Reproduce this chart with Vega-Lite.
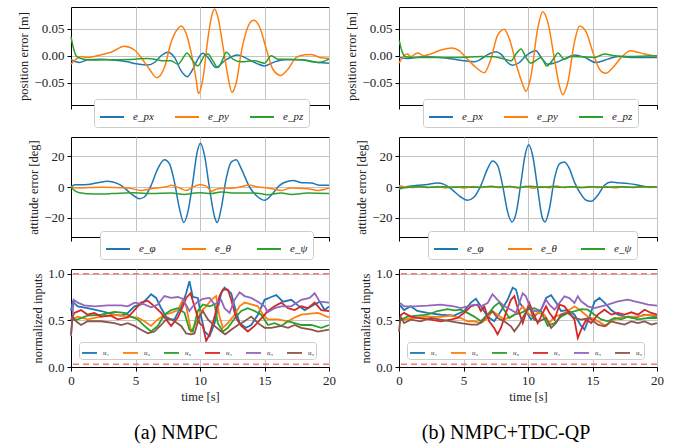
{
"$schema": "https://vega.github.io/schema/vega-lite/v6.json",
"padding": {"left": 17, "top": 5, "right": 5, "bottom": 5},
"config": {
  "font": "Liberation Serif",
  "view": {"stroke": "black", "strokeWidth": 1},
  "axis": {"labelFont": "Liberation Serif", "labelFontSize": 13, "labelColor": "#222", "titleFont": "Liberation Serif", "titleFontSize": 12.5, "titleFontWeight": "normal", "titleColor": "#222", "domainColor": "black", "tickColor": "black", "tickSize": 4, "gridColor": "#c4c4c4", "gridWidth": 1, "labelPadding": 3, "titlePadding": 3, "labelFlush": false},
  "legend": {"labelFont": "Liberation Serif", "labelFontStyle": "italic", "labelColor": "#222", "symbolType": "stroke", "strokeColor": "#cccccc", "fillColor": "white", "cornerRadius": 3},
  "title": {"font": "Liberation Serif", "fontWeight": "normal", "fontSize": 20, "color": "black"}
},
"datasets": {
  "posA": [
    {"s":"e_px","t":0,"v":-0.0075},{"s":"e_px","t":0.65,"v":-0.0125},{"s":"e_px","t":1.29,"v":-0.0075},{"s":"e_px","t":2.33,"v":-0.0063},{"s":"e_px","t":3.88,"v":-0.0094},{"s":"e_px","t":4.4,"v":-0.0113},{"s":"e_px","t":4.92,"v":-0.0144},{"s":"e_px","t":5.95,"v":-0.0169},{"s":"e_px","t":6.47,"v":-0.0125},{"s":"e_px","t":6.99,"v":0},{"s":"e_px","t":7.5,"v":0.0063},{"s":"e_px","t":8.02,"v":-0.0031},{"s":"e_px","t":8.54,"v":-0.0281},{"s":"e_px","t":9.0,"v":-0.0388},{"s":"e_px","t":9.44,"v":-0.025},{"s":"e_px","t":9.83,"v":-0.0063},{"s":"e_px","t":10.22,"v":0.0044},{"s":"e_px","t":10.61,"v":-0.0031},{"s":"e_px","t":11.25,"v":-0.0219},{"s":"e_px","t":11.9,"v":-0.0094},{"s":"e_px","t":12.94,"v":0.0013},{"s":"e_px","t":13.71,"v":-0.0063},{"s":"e_px","t":15.01,"v":-0.0188},{"s":"e_px","t":15.78,"v":-0.0113},{"s":"e_px","t":16.56,"v":-0.0075},{"s":"e_px","t":17.85,"v":-0.0075},{"s":"e_px","t":19.15,"v":-0.0125},{"s":"e_px","t":20,"v":-0.0138},
    {"s":"e_py","t":0,"v":-0.0156},{"s":"e_py","t":0.39,"v":-0.0063},{"s":"e_py","t":0.78,"v":-0.0013},{"s":"e_py","t":1.29,"v":-0.0031},{"s":"e_py","t":2.33,"v":0.0019},{"s":"e_py","t":3.1,"v":0.0063},{"s":"e_py","t":4.14,"v":0.0175},{"s":"e_py","t":4.92,"v":0.0106},{"s":"e_py","t":5.43,"v":-0.0031},{"s":"e_py","t":6.08,"v":-0.025},{"s":"e_py","t":6.65,"v":-0.0406},{"s":"e_py","t":7.24,"v":-0.0219},{"s":"e_py","t":7.76,"v":0.025},{"s":"e_py","t":8.28,"v":0.05},{"s":"e_py","t":8.54,"v":0.055},{"s":"e_py","t":8.93,"v":0.0406},{"s":"e_py","t":9.31,"v":0.0063},{"s":"e_py","t":9.7,"v":-0.0438},{"s":"e_py","t":9.88,"v":-0.07},{"s":"e_py","t":10.22,"v":-0.0438},{"s":"e_py","t":10.61,"v":0.0313},{"s":"e_py","t":10.92,"v":0.075},{"s":"e_py","t":11.13,"v":0.0863},{"s":"e_py","t":11.38,"v":0.0719},{"s":"e_py","t":11.77,"v":0.0188},{"s":"e_py","t":12.16,"v":-0.0375},{"s":"e_py","t":12.47,"v":-0.0675},{"s":"e_py","t":12.81,"v":-0.05},{"s":"e_py","t":13.2,"v":0.0063},{"s":"e_py","t":13.71,"v":0.0531},{"s":"e_py","t":14.15,"v":0.0656},{"s":"e_py","t":14.62,"v":0.0531},{"s":"e_py","t":15.14,"v":0.0125},{"s":"e_py","t":15.65,"v":-0.025},{"s":"e_py","t":16.25,"v":-0.0363},{"s":"e_py","t":16.82,"v":-0.025},{"s":"e_py","t":17.46,"v":-0.0031},{"s":"e_py","t":18.11,"v":0.0019},{"s":"e_py","t":18.63,"v":0.0025},{"s":"e_py","t":19.28,"v":-0.0031},{"s":"e_py","t":20,"v":-0.005},
    {"s":"e_pz","t":0,"v":0.035},{"s":"e_pz","t":0.21,"v":0.0125},{"s":"e_pz","t":0.39,"v":0},{"s":"e_pz","t":0.78,"v":-0.005},{"s":"e_pz","t":1.55,"v":-0.0081},{"s":"e_pz","t":3.1,"v":-0.0075},{"s":"e_pz","t":4.92,"v":-0.0063},{"s":"e_pz","t":5.95,"v":-0.005},{"s":"e_pz","t":6.47,"v":-0.0063},{"s":"e_pz","t":7.24,"v":-0.0094},{"s":"e_pz","t":7.76,"v":-0.0094},{"s":"e_pz","t":8.28,"v":-0.0156},{"s":"e_pz","t":8.8,"v":0},{"s":"e_pz","t":8.98,"v":0.005},{"s":"e_pz","t":9.44,"v":-0.0094},{"s":"e_pz","t":9.83,"v":-0.0188},{"s":"e_pz","t":10.35,"v":0},{"s":"e_pz","t":10.61,"v":0.0031},{"s":"e_pz","t":11.0,"v":-0.0094},{"s":"e_pz","t":11.38,"v":-0.0219},{"s":"e_pz","t":11.77,"v":-0.0063},{"s":"e_pz","t":12.03,"v":0.0063},{"s":"e_pz","t":12.55,"v":-0.0063},{"s":"e_pz","t":13.2,"v":-0.0113},{"s":"e_pz","t":14.23,"v":-0.0094},{"s":"e_pz","t":15.01,"v":-0.0138},{"s":"e_pz","t":15.52,"v":0},{"s":"e_pz","t":16.04,"v":-0.0063},{"s":"e_pz","t":16.82,"v":-0.0063},{"s":"e_pz","t":17.85,"v":-0.0075},{"s":"e_pz","t":19.15,"v":-0.0125},{"s":"e_pz","t":20,"v":-0.0063}
  ],
  "posB": [
    {"s":"e_px","t":0,"v":-0.0031},{"s":"e_px","t":0.65,"v":-0.005},{"s":"e_px","t":1.94,"v":-0.0019},{"s":"e_px","t":3.24,"v":-0.0031},{"s":"e_px","t":4.27,"v":-0.0063},{"s":"e_px","t":5.05,"v":-0.0094},{"s":"e_px","t":5.83,"v":-0.0113},{"s":"e_px","t":6.35,"v":-0.0063},{"s":"e_px","t":6.87,"v":0.0019},{"s":"e_px","t":7.51,"v":0.0075},{"s":"e_px","t":7.9,"v":0.0031},{"s":"e_px","t":8.42,"v":-0.0125},{"s":"e_px","t":8.81,"v":-0.0175},{"s":"e_px","t":9.33,"v":-0.0125},{"s":"e_px","t":9.84,"v":0},{"s":"e_px","t":10.62,"v":0.0094},{"s":"e_px","t":11.01,"v":-0.0031},{"s":"e_px","t":11.53,"v":-0.0156},{"s":"e_px","t":12.31,"v":-0.0113},{"s":"e_px","t":13.08,"v":-0.0031},{"s":"e_px","t":13.6,"v":0.0013},{"s":"e_px","t":14.38,"v":-0.0031},{"s":"e_px","t":15.28,"v":-0.0125},{"s":"e_px","t":16.19,"v":-0.0063},{"s":"e_px","t":16.97,"v":-0.0013},{"s":"e_px","t":18.01,"v":-0.0031},{"s":"e_px","t":20,"v":-0.0031},
    {"s":"e_py","t":0,"v":-0.0138},{"s":"e_py","t":0.39,"v":0},{"s":"e_py","t":0.65,"v":0.0031},{"s":"e_py","t":0.91,"v":-0.0013},{"s":"e_py","t":1.42,"v":0.005},{"s":"e_py","t":1.94,"v":0},{"s":"e_py","t":2.46,"v":0.0031},{"s":"e_py","t":3.24,"v":0.0106},{"s":"e_py","t":4.15,"v":0.0144},{"s":"e_py","t":4.66,"v":0.0094},{"s":"e_py","t":5.18,"v":-0.0031},{"s":"e_py","t":5.83,"v":-0.0188},{"s":"e_py","t":6.61,"v":-0.0313},{"s":"e_py","t":7.12,"v":-0.0063},{"s":"e_py","t":7.64,"v":0.0375},{"s":"e_py","t":8.16,"v":0.0488},{"s":"e_py","t":8.55,"v":0.0313},{"s":"e_py","t":9.2,"v":-0.025},{"s":"e_py","t":9.59,"v":-0.0531},{"s":"e_py","t":9.84,"v":-0.0656},{"s":"e_py","t":10.23,"v":-0.0375},{"s":"e_py","t":10.75,"v":0.05},{"s":"e_py","t":11.14,"v":0.0813},{"s":"e_py","t":11.53,"v":0.0625},{"s":"e_py","t":12.05,"v":-0.0063},{"s":"e_py","t":12.44,"v":-0.0563},{"s":"e_py","t":12.69,"v":-0.0719},{"s":"e_py","t":13.08,"v":-0.05},{"s":"e_py","t":13.6,"v":0.025},{"s":"e_py","t":13.99,"v":0.055},{"s":"e_py","t":14.51,"v":0.0438},{"s":"e_py","t":15.03,"v":0.0063},{"s":"e_py","t":15.54,"v":-0.025},{"s":"e_py","t":16.01,"v":-0.0325},{"s":"e_py","t":16.58,"v":-0.0219},{"s":"e_py","t":17.23,"v":-0.0031},{"s":"e_py","t":17.95,"v":0.0094},{"s":"e_py","t":18.52,"v":0.0063},{"s":"e_py","t":19.04,"v":0.0031},{"s":"e_py","t":20,"v":-0.0013},
    {"s":"e_pz","t":0.02,"v":0.028},{"s":"e_pz","t":0.26,"v":0.0063},{"s":"e_pz","t":0.52,"v":-0.0019},{"s":"e_pz","t":1.17,"v":-0.0031},{"s":"e_pz","t":3.24,"v":-0.0031},{"s":"e_pz","t":4.79,"v":-0.0031},{"s":"e_pz","t":6.35,"v":-0.0013},{"s":"e_pz","t":7.38,"v":-0.0019},{"s":"e_pz","t":8.16,"v":-0.0063},{"s":"e_pz","t":8.68,"v":-0.0094},{"s":"e_pz","t":9.07,"v":0.0031},{"s":"e_pz","t":9.46,"v":0.0125},{"s":"e_pz","t":9.84,"v":-0.0031},{"s":"e_pz","t":10.23,"v":-0.0138},{"s":"e_pz","t":10.75,"v":-0.0063},{"s":"e_pz","t":11.01,"v":-0.0031},{"s":"e_pz","t":11.45,"v":-0.0188},{"s":"e_pz","t":12.05,"v":-0.0031},{"s":"e_pz","t":12.31,"v":0.005},{"s":"e_pz","t":12.82,"v":-0.0063},{"s":"e_pz","t":13.34,"v":-0.0013},{"s":"e_pz","t":14.12,"v":-0.0019},{"s":"e_pz","t":15.16,"v":-0.0031},{"s":"e_pz","t":15.93,"v":0.0031},{"s":"e_pz","t":16.71,"v":0},{"s":"e_pz","t":17.75,"v":-0.0013},{"s":"e_pz","t":20,"v":0}
  ],
  "attA": [
    {"s":"e_φ","t":0,"v":0},{"s":"e_φ","t":0.31,"v":1.5},{"s":"e_φ","t":0.78,"v":1.5},{"s":"e_φ","t":1.29,"v":1.7},{"s":"e_φ","t":2.07,"v":2.8},{"s":"e_φ","t":2.85,"v":3.7},{"s":"e_φ","t":3.23,"v":3.2},{"s":"e_φ","t":3.88,"v":1.1},{"s":"e_φ","t":4.66,"v":-4.3},{"s":"e_φ","t":5.3,"v":-7.6},{"s":"e_φ","t":5.69,"v":-6.5},{"s":"e_φ","t":6.21,"v":1.1},{"s":"e_φ","t":6.73,"v":11.9},{"s":"e_φ","t":7.24,"v":17.7},{"s":"e_φ","t":7.63,"v":15.1},{"s":"e_φ","t":8.02,"v":3.2},{"s":"e_φ","t":8.41,"v":-14.1},{"s":"e_φ","t":8.75,"v":-23.1},{"s":"e_φ","t":9.06,"v":-16.2},{"s":"e_φ","t":9.44,"v":3.2},{"s":"e_φ","t":9.78,"v":22.7},{"s":"e_φ","t":10.04,"v":28.5},{"s":"e_φ","t":10.35,"v":20.5},{"s":"e_φ","t":10.74,"v":-1.1},{"s":"e_φ","t":11.13,"v":-19.5},{"s":"e_φ","t":11.33,"v":-23.1},{"s":"e_φ","t":11.64,"v":-14.1},{"s":"e_φ","t":12.03,"v":5.4},{"s":"e_φ","t":12.42,"v":16.2},{"s":"e_φ","t":12.81,"v":17.7},{"s":"e_φ","t":13.2,"v":11.9},{"s":"e_φ","t":13.84,"v":0},{"s":"e_φ","t":14.49,"v":-6.5},{"s":"e_φ","t":15.01,"v":-8.6},{"s":"e_φ","t":15.52,"v":-5.4},{"s":"e_φ","t":16.17,"v":1.1},{"s":"e_φ","t":16.82,"v":3.7},{"s":"e_φ","t":17.21,"v":4.3},{"s":"e_φ","t":17.85,"v":2.8},{"s":"e_φ","t":18.63,"v":2.6},{"s":"e_φ","t":19.28,"v":1.1},{"s":"e_φ","t":20,"v":1.1},
    {"s":"e_θ","t":0,"v":0},{"s":"e_θ","t":0.52,"v":-0.6},{"s":"e_θ","t":2.33,"v":-0.2},{"s":"e_θ","t":4.4,"v":-0.6},{"s":"e_θ","t":5.43,"v":-2.2},{"s":"e_θ","t":6.21,"v":-1.1},{"s":"e_θ","t":7.5,"v":0.4},{"s":"e_θ","t":7.76,"v":1.1},{"s":"e_θ","t":8.54,"v":-1.1},{"s":"e_θ","t":8.93,"v":-2.2},{"s":"e_θ","t":9.44,"v":0},{"s":"e_θ","t":9.96,"v":1.5},{"s":"e_θ","t":10.48,"v":0.6},{"s":"e_θ","t":10.87,"v":-2.8},{"s":"e_θ","t":11.38,"v":-1.1},{"s":"e_θ","t":12.68,"v":-0.6},{"s":"e_θ","t":13.84,"v":1.1},{"s":"e_θ","t":14.49,"v":0},{"s":"e_θ","t":15.27,"v":-0.6},{"s":"e_θ","t":16.3,"v":-2.2},{"s":"e_θ","t":17.08,"v":-0.6},{"s":"e_θ","t":18.37,"v":-1.1},{"s":"e_θ","t":19.15,"v":-2.2},{"s":"e_θ","t":20,"v":-0.6},
    {"s":"e_ψ","t":0,"v":0},{"s":"e_ψ","t":0.26,"v":-2.2},{"s":"e_ψ","t":0.65,"v":-3.7},{"s":"e_ψ","t":1.81,"v":-4.5},{"s":"e_ψ","t":3.1,"v":-4.3},{"s":"e_ψ","t":4.92,"v":-3.7},{"s":"e_ψ","t":6.21,"v":-4.3},{"s":"e_ψ","t":7.76,"v":-3.9},{"s":"e_ψ","t":8.8,"v":-4.8},{"s":"e_ψ","t":9.57,"v":-3.9},{"s":"e_ψ","t":10.09,"v":-3.7},{"s":"e_ψ","t":10.87,"v":-4.3},{"s":"e_ψ","t":11.64,"v":-3.2},{"s":"e_ψ","t":12.68,"v":-3.9},{"s":"e_ψ","t":14.23,"v":-3.9},{"s":"e_ψ","t":15.27,"v":-5.0},{"s":"e_ψ","t":16.3,"v":-3.9},{"s":"e_ψ","t":17.08,"v":-4.8},{"s":"e_ψ","t":18.37,"v":-3.9},{"s":"e_ψ","t":20,"v":-4.3}
  ],
  "attB": [
    {"s":"e_φ","t":0,"v":-0.4},{"s":"e_φ","t":0.65,"v":0.4},{"s":"e_φ","t":1.42,"v":1.1},{"s":"e_φ","t":2.2,"v":1.7},{"s":"e_φ","t":2.98,"v":2.6},{"s":"e_φ","t":3.5,"v":1.7},{"s":"e_φ","t":4.02,"v":-1.1},{"s":"e_φ","t":4.79,"v":-6.5},{"s":"e_φ","t":5.31,"v":-8.6},{"s":"e_φ","t":5.83,"v":-6.5},{"s":"e_φ","t":6.35,"v":1.1},{"s":"e_φ","t":6.87,"v":11.9},{"s":"e_φ","t":7.25,"v":16.9},{"s":"e_φ","t":7.64,"v":14.1},{"s":"e_φ","t":8.03,"v":1.1},{"s":"e_φ","t":8.42,"v":-16.2},{"s":"e_φ","t":8.76,"v":-22.7},{"s":"e_φ","t":9.07,"v":-17.3},{"s":"e_φ","t":9.46,"v":3.2},{"s":"e_φ","t":9.77,"v":20.5},{"s":"e_φ","t":10.05,"v":27.5},{"s":"e_φ","t":10.36,"v":20.5},{"s":"e_φ","t":10.75,"v":-1.1},{"s":"e_φ","t":11.09,"v":-19.5},{"s":"e_φ","t":11.32,"v":-22.7},{"s":"e_φ","t":11.66,"v":-14.1},{"s":"e_φ","t":12.05,"v":5.4},{"s":"e_φ","t":12.44,"v":15.1},{"s":"e_φ","t":12.82,"v":16.2},{"s":"e_φ","t":13.21,"v":11.9},{"s":"e_φ","t":13.6,"v":3.2},{"s":"e_φ","t":13.99,"v":-3.2},{"s":"e_φ","t":14.51,"v":-8.6},{"s":"e_φ","t":14.9,"v":-9.3},{"s":"e_φ","t":15.41,"v":-5.4},{"s":"e_φ","t":15.93,"v":1.1},{"s":"e_φ","t":16.45,"v":3.2},{"s":"e_φ","t":16.97,"v":2.8},{"s":"e_φ","t":17.75,"v":2.2},{"s":"e_φ","t":18.39,"v":1.5},{"s":"e_φ","t":19.04,"v":0.4},{"s":"e_φ","t":20,"v":0},
    {"s":"e_θ","t":0,"v":0.8},{"s":"e_θ","t":0.4,"v":0.2},{"s":"e_θ","t":1,"v":-0.3},{"s":"e_θ","t":1.6,"v":0.4},{"s":"e_θ","t":2.2,"v":-0.4},{"s":"e_θ","t":3,"v":0.3},{"s":"e_θ","t":3.6,"v":-0.5},{"s":"e_θ","t":4.4,"v":0.2},{"s":"e_θ","t":5,"v":-0.6},{"s":"e_θ","t":5.8,"v":0.4},{"s":"e_θ","t":6.4,"v":-0.3},{"s":"e_θ","t":7.2,"v":0.5},{"s":"e_θ","t":7.8,"v":-0.4},{"s":"e_θ","t":8.6,"v":0.3},{"s":"e_θ","t":9.2,"v":-0.7},{"s":"e_θ","t":9.8,"v":0.5},{"s":"e_θ","t":10.4,"v":-0.8},{"s":"e_θ","t":11,"v":0.4},{"s":"e_θ","t":11.6,"v":-0.5},{"s":"e_θ","t":12.2,"v":0.6},{"s":"e_θ","t":12.8,"v":-0.4},{"s":"e_θ","t":13.4,"v":0.3},{"s":"e_θ","t":14,"v":-0.5},{"s":"e_θ","t":14.8,"v":0.4},{"s":"e_θ","t":15.4,"v":-0.4},{"s":"e_θ","t":16,"v":0.3},{"s":"e_θ","t":16.8,"v":-0.5},{"s":"e_θ","t":17.4,"v":0.3},{"s":"e_θ","t":18.2,"v":-0.4},{"s":"e_θ","t":18.8,"v":0.3},{"s":"e_θ","t":19.4,"v":-0.3},{"s":"e_θ","t":20,"v":0.2},
    {"s":"e_ψ","t":0,"v":-1.3},{"s":"e_ψ","t":0.3,"v":-0.6},{"s":"e_ψ","t":0.8,"v":-0.2},{"s":"e_ψ","t":1.6,"v":0.1},{"s":"e_ψ","t":2.5,"v":-0.2},{"s":"e_ψ","t":3.4,"v":0.2},{"s":"e_ψ","t":4.2,"v":-0.1},{"s":"e_ψ","t":5,"v":0.2},{"s":"e_ψ","t":6,"v":-0.2},{"s":"e_ψ","t":7,"v":0.3},{"s":"e_ψ","t":7.8,"v":0},{"s":"e_ψ","t":8.6,"v":0.4},{"s":"e_ψ","t":9.4,"v":-0.3},{"s":"e_ψ","t":10.2,"v":0.5},{"s":"e_ψ","t":11,"v":-0.2},{"s":"e_ψ","t":11.8,"v":0.3},{"s":"e_ψ","t":12.6,"v":-0.2},{"s":"e_ψ","t":13.4,"v":0.2},{"s":"e_ψ","t":14.2,"v":-0.3},{"s":"e_ψ","t":15,"v":0.1},{"s":"e_ψ","t":16,"v":-0.2},{"s":"e_ψ","t":17,"v":0.1},{"s":"e_ψ","t":18,"v":-0.1},{"s":"e_ψ","t":19,"v":0.1},{"s":"e_ψ","t":20,"v":0}
  ],
  "inA": [
    {"s":"u₁","t":0,"v":0.6},{"s":"u₁","t":0.13,"v":0.7},{"s":"u₁","t":0.52,"v":0.65},{"s":"u₁","t":1.29,"v":0.63},{"s":"u₁","t":2.33,"v":0.6},{"s":"u₁","t":2.85,"v":0.58},{"s":"u₁","t":3.36,"v":0.56},{"s":"u₁","t":3.88,"v":0.55},{"s":"u₁","t":4.4,"v":0.58},{"s":"u₁","t":4.92,"v":0.65},{"s":"u₁","t":5.43,"v":0.67},{"s":"u₁","t":5.95,"v":0.74},{"s":"u₁","t":6.21,"v":0.78},{"s":"u₁","t":6.6,"v":0.74},{"s":"u₁","t":6.99,"v":0.63},{"s":"u₁","t":7.5,"v":0.51},{"s":"u₁","t":8.02,"v":0.51},{"s":"u₁","t":8.54,"v":0.65},{"s":"u₁","t":8.93,"v":0.79},{"s":"u₁","t":9.18,"v":0.92},{"s":"u₁","t":9.44,"v":0.75},{"s":"u₁","t":9.83,"v":0.74},{"s":"u₁","t":10.09,"v":0.54},{"s":"u₁","t":10.35,"v":0.38},{"s":"u₁","t":10.74,"v":0.33},{"s":"u₁","t":11.13,"v":0.47},{"s":"u₁","t":11.64,"v":0.79},{"s":"u₁","t":11.9,"v":0.85},{"s":"u₁","t":12.42,"v":0.79},{"s":"u₁","t":12.68,"v":0.65},{"s":"u₁","t":13.07,"v":0.47},{"s":"u₁","t":13.58,"v":0.42},{"s":"u₁","t":13.97,"v":0.45},{"s":"u₁","t":14.49,"v":0.56},{"s":"u₁","t":15.01,"v":0.72},{"s":"u₁","t":15.52,"v":0.75},{"s":"u₁","t":15.91,"v":0.77},{"s":"u₁","t":16.43,"v":0.7},{"s":"u₁","t":17.08,"v":0.72},{"s":"u₁","t":17.59,"v":0.66},{"s":"u₁","t":18.11,"v":0.61},{"s":"u₁","t":18.63,"v":0.65},{"s":"u₁","t":19.28,"v":0.7},{"s":"u₁","t":19.66,"v":0.61},{"s":"u₁","t":20,"v":0.65},
    {"s":"u₂","t":0,"v":0.5},{"s":"u₂","t":0.52,"v":0.54},{"s":"u₂","t":1.29,"v":0.51},{"s":"u₂","t":2.33,"v":0.54},{"s":"u₂","t":3.36,"v":0.56},{"s":"u₂","t":4.4,"v":0.54},{"s":"u₂","t":5.17,"v":0.53},{"s":"u₂","t":5.69,"v":0.49},{"s":"u₂","t":6.21,"v":0.44},{"s":"u₂","t":6.73,"v":0.51},{"s":"u₂","t":7.24,"v":0.56},{"s":"u₂","t":7.76,"v":0.58},{"s":"u₂","t":8.28,"v":0.61},{"s":"u₂","t":8.67,"v":0.72},{"s":"u₂","t":8.93,"v":0.65},{"s":"u₂","t":9.31,"v":0.38},{"s":"u₂","t":9.7,"v":0.47},{"s":"u₂","t":10.09,"v":0.6},{"s":"u₂","t":10.48,"v":0.65},{"s":"u₂","t":10.87,"v":0.72},{"s":"u₂","t":11.25,"v":0.76},{"s":"u₂","t":11.51,"v":0.54},{"s":"u₂","t":11.77,"v":0.42},{"s":"u₂","t":12.16,"v":0.47},{"s":"u₂","t":12.68,"v":0.56},{"s":"u₂","t":13.07,"v":0.65},{"s":"u₂","t":13.45,"v":0.69},{"s":"u₂","t":13.97,"v":0.67},{"s":"u₂","t":14.49,"v":0.65},{"s":"u₂","t":14.88,"v":0.56},{"s":"u₂","t":15.27,"v":0.51},{"s":"u₂","t":16.04,"v":0.51},{"s":"u₂","t":16.82,"v":0.49},{"s":"u₂","t":17.34,"v":0.53},{"s":"u₂","t":17.85,"v":0.56},{"s":"u₂","t":18.37,"v":0.57},{"s":"u₂","t":19.15,"v":0.58},{"s":"u₂","t":20,"v":0.53},
    {"s":"u₃","t":0,"v":0.5},{"s":"u₃","t":0.52,"v":0.51},{"s":"u₃","t":1.29,"v":0.55},{"s":"u₃","t":2.33,"v":0.56},{"s":"u₃","t":3.36,"v":0.59},{"s":"u₃","t":4.14,"v":0.58},{"s":"u₃","t":4.66,"v":0.54},{"s":"u₃","t":5.17,"v":0.51},{"s":"u₃","t":5.69,"v":0.44},{"s":"u₃","t":6.21,"v":0.38},{"s":"u₃","t":6.73,"v":0.44},{"s":"u₃","t":7.24,"v":0.56},{"s":"u₃","t":7.76,"v":0.61},{"s":"u₃","t":8.28,"v":0.63},{"s":"u₃","t":8.8,"v":0.58},{"s":"u₃","t":9.18,"v":0.4},{"s":"u₃","t":9.44,"v":0.38},{"s":"u₃","t":9.83,"v":0.6},{"s":"u₃","t":10.22,"v":0.67},{"s":"u₃","t":10.74,"v":0.65},{"s":"u₃","t":11.13,"v":0.67},{"s":"u₃","t":11.38,"v":0.47},{"s":"u₃","t":11.77,"v":0.38},{"s":"u₃","t":12.16,"v":0.42},{"s":"u₃","t":12.68,"v":0.52},{"s":"u₃","t":13.2,"v":0.6},{"s":"u₃","t":13.71,"v":0.63},{"s":"u₃","t":14.23,"v":0.6},{"s":"u₃","t":14.75,"v":0.56},{"s":"u₃","t":15.27,"v":0.45},{"s":"u₃","t":15.78,"v":0.47},{"s":"u₃","t":16.3,"v":0.44},{"s":"u₃","t":16.82,"v":0.49},{"s":"u₃","t":17.34,"v":0.47},{"s":"u₃","t":17.85,"v":0.45},{"s":"u₃","t":18.63,"v":0.45},{"s":"u₃","t":19.4,"v":0.42},{"s":"u₃","t":20,"v":0.45},
    {"s":"u₄","t":0,"v":0.5},{"s":"u₄","t":0.26,"v":0.58},{"s":"u₄","t":0.78,"v":0.61},{"s":"u₄","t":1.29,"v":0.56},{"s":"u₄","t":1.81,"v":0.58},{"s":"u₄","t":2.33,"v":0.54},{"s":"u₄","t":3.1,"v":0.55},{"s":"u₄","t":3.62,"v":0.51},{"s":"u₄","t":4.4,"v":0.53},{"s":"u₄","t":4.92,"v":0.61},{"s":"u₄","t":5.43,"v":0.69},{"s":"u₄","t":5.95,"v":0.71},{"s":"u₄","t":6.47,"v":0.65},{"s":"u₄","t":6.99,"v":0.58},{"s":"u₄","t":7.37,"v":0.51},{"s":"u₄","t":7.76,"v":0.44},{"s":"u₄","t":8.28,"v":0.53},{"s":"u₄","t":8.67,"v":0.65},{"s":"u₄","t":8.93,"v":0.74},{"s":"u₄","t":9.26,"v":0.79},{"s":"u₄","t":9.57,"v":0.65},{"s":"u₄","t":9.96,"v":0.47},{"s":"u₄","t":10.22,"v":0.44},{"s":"u₄","t":10.48,"v":0.28},{"s":"u₄","t":10.74,"v":0.35},{"s":"u₄","t":11.13,"v":0.54},{"s":"u₄","t":11.51,"v":0.76},{"s":"u₄","t":11.77,"v":0.83},{"s":"u₄","t":12.16,"v":0.83},{"s":"u₄","t":12.42,"v":0.72},{"s":"u₄","t":12.81,"v":0.52},{"s":"u₄","t":13.2,"v":0.44},{"s":"u₄","t":13.71,"v":0.38},{"s":"u₄","t":14.23,"v":0.44},{"s":"u₄","t":14.75,"v":0.52},{"s":"u₄","t":15.27,"v":0.6},{"s":"u₄","t":15.78,"v":0.65},{"s":"u₄","t":16.3,"v":0.69},{"s":"u₄","t":16.82,"v":0.63},{"s":"u₄","t":17.34,"v":0.61},{"s":"u₄","t":17.85,"v":0.65},{"s":"u₄","t":18.37,"v":0.63},{"s":"u₄","t":18.89,"v":0.69},{"s":"u₄","t":19.4,"v":0.61},{"s":"u₄","t":20,"v":0.6},
    {"s":"u₅","t":0,"v":0.33},{"s":"u₅","t":0.21,"v":0.72},{"s":"u₅","t":0.52,"v":0.69},{"s":"u₅","t":1.03,"v":0.66},{"s":"u₅","t":1.81,"v":0.65},{"s":"u₅","t":2.85,"v":0.66},{"s":"u₅","t":3.88,"v":0.66},{"s":"u₅","t":4.4,"v":0.65},{"s":"u₅","t":4.92,"v":0.69},{"s":"u₅","t":5.69,"v":0.67},{"s":"u₅","t":6.21,"v":0.64},{"s":"u₅","t":6.73,"v":0.67},{"s":"u₅","t":7.24,"v":0.76},{"s":"u₅","t":7.76,"v":0.74},{"s":"u₅","t":8.28,"v":0.75},{"s":"u₅","t":8.67,"v":0.73},{"s":"u₅","t":9.18,"v":0.6},{"s":"u₅","t":9.44,"v":0.65},{"s":"u₅","t":9.83,"v":0.7},{"s":"u₅","t":10.22,"v":0.73},{"s":"u₅","t":10.74,"v":0.74},{"s":"u₅","t":11.13,"v":0.67},{"s":"u₅","t":11.64,"v":0.72},{"s":"u₅","t":11.9,"v":0.63},{"s":"u₅","t":12.29,"v":0.58},{"s":"u₅","t":12.68,"v":0.72},{"s":"u₅","t":13.07,"v":0.8},{"s":"u₅","t":13.45,"v":0.76},{"s":"u₅","t":13.97,"v":0.74},{"s":"u₅","t":14.49,"v":0.7},{"s":"u₅","t":15.01,"v":0.65},{"s":"u₅","t":15.27,"v":0.59},{"s":"u₅","t":15.78,"v":0.63},{"s":"u₅","t":16.3,"v":0.65},{"s":"u₅","t":17.08,"v":0.65},{"s":"u₅","t":17.85,"v":0.72},{"s":"u₅","t":18.5,"v":0.74},{"s":"u₅","t":18.89,"v":0.79},{"s":"u₅","t":19.28,"v":0.7},{"s":"u₅","t":20,"v":0.69},
    {"s":"u₆","t":0,"v":0.35},{"s":"u₆","t":0.13,"v":0.54},{"s":"u₆","t":0.39,"v":0.49},{"s":"u₆","t":0.78,"v":0.45},{"s":"u₆","t":1.29,"v":0.49},{"s":"u₆","t":2.33,"v":0.49},{"s":"u₆","t":3.36,"v":0.47},{"s":"u₆","t":3.88,"v":0.45},{"s":"u₆","t":4.4,"v":0.47},{"s":"u₆","t":4.92,"v":0.44},{"s":"u₆","t":5.43,"v":0.4},{"s":"u₆","t":5.95,"v":0.36},{"s":"u₆","t":6.47,"v":0.38},{"s":"u₆","t":6.99,"v":0.45},{"s":"u₆","t":7.5,"v":0.53},{"s":"u₆","t":8.02,"v":0.49},{"s":"u₆","t":8.54,"v":0.44},{"s":"u₆","t":8.93,"v":0.36},{"s":"u₆","t":9.31,"v":0.35},{"s":"u₆","t":9.57,"v":0.36},{"s":"u₆","t":9.96,"v":0.54},{"s":"u₆","t":10.22,"v":0.6},{"s":"u₆","t":10.61,"v":0.51},{"s":"u₆","t":11.13,"v":0.44},{"s":"u₆","t":11.64,"v":0.38},{"s":"u₆","t":11.95,"v":0.35},{"s":"u₆","t":12.42,"v":0.4},{"s":"u₆","t":12.94,"v":0.45},{"s":"u₆","t":13.45,"v":0.49},{"s":"u₆","t":13.97,"v":0.54},{"s":"u₆","t":14.49,"v":0.47},{"s":"u₆","t":15.01,"v":0.42},{"s":"u₆","t":15.52,"v":0.42},{"s":"u₆","t":16.3,"v":0.44},{"s":"u₆","t":16.82,"v":0.42},{"s":"u₆","t":17.34,"v":0.45},{"s":"u₆","t":17.85,"v":0.42},{"s":"u₆","t":18.63,"v":0.4},{"s":"u₆","t":19.15,"v":0.38},{"s":"u₆","t":20,"v":0.4}
  ],
  "inB": [
    {"s":"u₁","t":0.08,"v":0.66},{"s":"u₁","t":0.39,"v":0.61},{"s":"u₁","t":0.91,"v":0.65},{"s":"u₁","t":1.42,"v":0.6},{"s":"u₁","t":2.2,"v":0.58},{"s":"u₁","t":3.24,"v":0.56},{"s":"u₁","t":4.27,"v":0.55},{"s":"u₁","t":5.05,"v":0.6},{"s":"u₁","t":5.57,"v":0.69},{"s":"u₁","t":5.96,"v":0.73},{"s":"u₁","t":6.35,"v":0.65},{"s":"u₁","t":6.87,"v":0.54},{"s":"u₁","t":7.38,"v":0.49},{"s":"u₁","t":7.9,"v":0.6},{"s":"u₁","t":8.42,"v":0.72},{"s":"u₁","t":8.81,"v":0.85},{"s":"u₁","t":9.07,"v":0.83},{"s":"u₁","t":9.33,"v":0.69},{"s":"u₁","t":9.84,"v":0.6},{"s":"u₁","t":10.23,"v":0.51},{"s":"u₁","t":10.62,"v":0.56},{"s":"u₁","t":11.01,"v":0.61},{"s":"u₁","t":11.4,"v":0.74},{"s":"u₁","t":11.79,"v":0.77},{"s":"u₁","t":12.18,"v":0.69},{"s":"u₁","t":12.56,"v":0.6},{"s":"u₁","t":13.08,"v":0.61},{"s":"u₁","t":13.6,"v":0.56},{"s":"u₁","t":14.12,"v":0.44},{"s":"u₁","t":14.38,"v":0.4},{"s":"u₁","t":14.77,"v":0.54},{"s":"u₁","t":15.16,"v":0.7},{"s":"u₁","t":15.54,"v":0.74},{"s":"u₁","t":15.93,"v":0.69},{"s":"u₁","t":16.45,"v":0.61},{"s":"u₁","t":16.97,"v":0.56},{"s":"u₁","t":17.49,"v":0.54},{"s":"u₁","t":18.26,"v":0.525},{"s":"u₁","t":19.04,"v":0.56},{"s":"u₁","t":20,"v":0.54},
    {"s":"u₂","t":0.08,"v":0.5},{"s":"u₂","t":1.17,"v":0.525},{"s":"u₂","t":2.2,"v":0.54},{"s":"u₂","t":3.24,"v":0.536},{"s":"u₂","t":4.02,"v":0.55},{"s":"u₂","t":4.79,"v":0.525},{"s":"u₂","t":5.31,"v":0.49},{"s":"u₂","t":5.83,"v":0.49},{"s":"u₂","t":6.35,"v":0.47},{"s":"u₂","t":6.87,"v":0.525},{"s":"u₂","t":7.25,"v":0.6},{"s":"u₂","t":7.64,"v":0.56},{"s":"u₂","t":8.16,"v":0.51},{"s":"u₂","t":8.68,"v":0.54},{"s":"u₂","t":9.2,"v":0.58},{"s":"u₂","t":9.59,"v":0.65},{"s":"u₂","t":9.97,"v":0.58},{"s":"u₂","t":10.36,"v":0.54},{"s":"u₂","t":10.75,"v":0.58},{"s":"u₂","t":11.27,"v":0.56},{"s":"u₂","t":11.66,"v":0.47},{"s":"u₂","t":12.05,"v":0.54},{"s":"u₂","t":12.56,"v":0.56},{"s":"u₂","t":13.08,"v":0.6},{"s":"u₂","t":13.6,"v":0.65},{"s":"u₂","t":14.12,"v":0.6},{"s":"u₂","t":14.64,"v":0.54},{"s":"u₂","t":15.16,"v":0.51},{"s":"u₂","t":15.67,"v":0.47},{"s":"u₂","t":16.06,"v":0.44},{"s":"u₂","t":16.45,"v":0.49},{"s":"u₂","t":16.97,"v":0.525},{"s":"u₂","t":17.75,"v":0.54},{"s":"u₂","t":18.52,"v":0.54},{"s":"u₂","t":19.3,"v":0.56},{"s":"u₂","t":20,"v":0.55},
    {"s":"u₃","t":0.08,"v":0.5},{"s":"u₃","t":0.65,"v":0.54},{"s":"u₃","t":1.42,"v":0.55},{"s":"u₃","t":2.2,"v":0.56},{"s":"u₃","t":2.98,"v":0.6},{"s":"u₃","t":3.76,"v":0.62},{"s":"u₃","t":4.27,"v":0.607},{"s":"u₃","t":4.79,"v":0.614},{"s":"u₃","t":5.31,"v":0.58},{"s":"u₃","t":5.83,"v":0.54},{"s":"u₃","t":6.35,"v":0.49},{"s":"u₃","t":6.87,"v":0.56},{"s":"u₃","t":7.38,"v":0.65},{"s":"u₃","t":7.77,"v":0.69},{"s":"u₃","t":8.16,"v":0.61},{"s":"u₃","t":8.55,"v":0.525},{"s":"u₃","t":8.94,"v":0.56},{"s":"u₃","t":9.46,"v":0.58},{"s":"u₃","t":9.97,"v":0.614},{"s":"u₃","t":10.49,"v":0.63},{"s":"u₃","t":11.01,"v":0.596},{"s":"u₃","t":11.53,"v":0.44},{"s":"u₃","t":12.05,"v":0.47},{"s":"u₃","t":12.56,"v":0.54},{"s":"u₃","t":13.08,"v":0.58},{"s":"u₃","t":13.6,"v":0.596},{"s":"u₃","t":14.12,"v":0.62},{"s":"u₃","t":14.64,"v":0.614},{"s":"u₃","t":15.16,"v":0.56},{"s":"u₃","t":15.67,"v":0.51},{"s":"u₃","t":16.19,"v":0.49},{"s":"u₃","t":16.71,"v":0.525},{"s":"u₃","t":17.23,"v":0.51},{"s":"u₃","t":17.75,"v":0.54},{"s":"u₃","t":18.52,"v":0.51},{"s":"u₃","t":19.3,"v":0.525},{"s":"u₃","t":20,"v":0.525},
    {"s":"u₄","t":0.08,"v":0.55},{"s":"u₄","t":0.39,"v":0.58},{"s":"u₄","t":0.91,"v":0.54},{"s":"u₄","t":1.68,"v":0.52},{"s":"u₄","t":2.46,"v":0.507},{"s":"u₄","t":3.24,"v":0.49},{"s":"u₄","t":4.02,"v":0.507},{"s":"u₄","t":4.53,"v":0.525},{"s":"u₄","t":5.05,"v":0.58},{"s":"u₄","t":5.57,"v":0.65},{"s":"u₄","t":6.09,"v":0.67},{"s":"u₄","t":6.35,"v":0.6},{"s":"u₄","t":6.61,"v":0.65},{"s":"u₄","t":6.99,"v":0.49},{"s":"u₄","t":7.38,"v":0.418},{"s":"u₄","t":7.64,"v":0.35},{"s":"u₄","t":7.9,"v":0.418},{"s":"u₄","t":8.29,"v":0.58},{"s":"u₄","t":8.68,"v":0.72},{"s":"u₄","t":8.94,"v":0.76},{"s":"u₄","t":9.2,"v":0.63},{"s":"u₄","t":9.59,"v":0.47},{"s":"u₄","t":9.84,"v":0.58},{"s":"u₄","t":10.1,"v":0.686},{"s":"u₄","t":10.36,"v":0.596},{"s":"u₄","t":10.75,"v":0.47},{"s":"u₄","t":11.01,"v":0.54},{"s":"u₄","t":11.4,"v":0.65},{"s":"u₄","t":11.66,"v":0.58},{"s":"u₄","t":12.05,"v":0.507},{"s":"u₄","t":12.44,"v":0.668},{"s":"u₄","t":12.82,"v":0.65},{"s":"u₄","t":13.21,"v":0.58},{"s":"u₄","t":13.6,"v":0.507},{"s":"u₄","t":13.86,"v":0.31},{"s":"u₄","t":14.12,"v":0.4},{"s":"u₄","t":14.51,"v":0.507},{"s":"u₄","t":14.9,"v":0.471},{"s":"u₄","t":15.41,"v":0.561},{"s":"u₄","t":15.93,"v":0.614},{"s":"u₄","t":16.45,"v":0.561},{"s":"u₄","t":16.97,"v":0.579},{"s":"u₄","t":17.49,"v":0.561},{"s":"u₄","t":18.01,"v":0.586},{"s":"u₄","t":18.52,"v":0.561},{"s":"u₄","t":19.04,"v":0.614},{"s":"u₄","t":19.56,"v":0.579},{"s":"u₄","t":20,"v":0.561},
    {"s":"u₅","t":0.08,"v":0.686},{"s":"u₅","t":0.39,"v":0.65},{"s":"u₅","t":1.17,"v":0.65},{"s":"u₅","t":2.2,"v":0.657},{"s":"u₅","t":3.24,"v":0.668},{"s":"u₅","t":4.27,"v":0.65},{"s":"u₅","t":4.79,"v":0.632},{"s":"u₅","t":5.31,"v":0.65},{"s":"u₅","t":5.83,"v":0.668},{"s":"u₅","t":6.35,"v":0.65},{"s":"u₅","t":6.87,"v":0.686},{"s":"u₅","t":7.25,"v":0.78},{"s":"u₅","t":7.64,"v":0.72},{"s":"u₅","t":8.16,"v":0.65},{"s":"u₅","t":8.68,"v":0.614},{"s":"u₅","t":9.07,"v":0.58},{"s":"u₅","t":9.33,"v":0.686},{"s":"u₅","t":9.59,"v":0.79},{"s":"u₅","t":9.84,"v":0.757},{"s":"u₅","t":10.23,"v":0.614},{"s":"u₅","t":10.62,"v":0.596},{"s":"u₅","t":11.01,"v":0.614},{"s":"u₅","t":11.4,"v":0.721},{"s":"u₅","t":11.66,"v":0.668},{"s":"u₅","t":12.05,"v":0.614},{"s":"u₅","t":12.44,"v":0.686},{"s":"u₅","t":12.82,"v":0.757},{"s":"u₅","t":13.21,"v":0.739},{"s":"u₅","t":13.6,"v":0.686},{"s":"u₅","t":13.86,"v":0.757},{"s":"u₅","t":14.12,"v":0.704},{"s":"u₅","t":14.64,"v":0.65},{"s":"u₅","t":15.16,"v":0.632},{"s":"u₅","t":15.67,"v":0.65},{"s":"u₅","t":16.19,"v":0.668},{"s":"u₅","t":16.97,"v":0.704},{"s":"u₅","t":17.75,"v":0.721},{"s":"u₅","t":18.26,"v":0.704},{"s":"u₅","t":18.78,"v":0.686},{"s":"u₅","t":19.3,"v":0.668},{"s":"u₅","t":20,"v":0.657},
    {"s":"u₆","t":0,"v":0.38},{"s":"u₆","t":0.13,"v":0.54},{"s":"u₆","t":0.39,"v":0.47},{"s":"u₆","t":0.91,"v":0.507},{"s":"u₆","t":1.68,"v":0.489},{"s":"u₆","t":2.46,"v":0.525},{"s":"u₆","t":3.24,"v":0.507},{"s":"u₆","t":4.02,"v":0.489},{"s":"u₆","t":4.79,"v":0.471},{"s":"u₆","t":5.57,"v":0.454},{"s":"u₆","t":6.09,"v":0.454},{"s":"u₆","t":6.48,"v":0.489},{"s":"u₆","t":6.87,"v":0.561},{"s":"u₆","t":7.25,"v":0.596},{"s":"u₆","t":7.64,"v":0.525},{"s":"u₆","t":8.16,"v":0.489},{"s":"u₆","t":8.68,"v":0.436},{"s":"u₆","t":8.94,"v":0.382},{"s":"u₆","t":9.33,"v":0.454},{"s":"u₆","t":9.72,"v":0.561},{"s":"u₆","t":10.1,"v":0.65},{"s":"u₆","t":10.49,"v":0.507},{"s":"u₆","t":10.88,"v":0.489},{"s":"u₆","t":11.4,"v":0.525},{"s":"u₆","t":11.79,"v":0.418},{"s":"u₆","t":12.18,"v":0.471},{"s":"u₆","t":12.56,"v":0.561},{"s":"u₆","t":13.08,"v":0.579},{"s":"u₆","t":13.6,"v":0.525},{"s":"u₆","t":14.12,"v":0.507},{"s":"u₆","t":14.77,"v":0.525},{"s":"u₆","t":15.41,"v":0.454},{"s":"u₆","t":15.93,"v":0.436},{"s":"u₆","t":16.45,"v":0.489},{"s":"u₆","t":16.97,"v":0.471},{"s":"u₆","t":17.49,"v":0.454},{"s":"u₆","t":18.01,"v":0.489},{"s":"u₆","t":18.52,"v":0.471},{"s":"u₆","t":19.04,"v":0.489},{"s":"u₆","t":19.56,"v":0.454},{"s":"u₆","t":20,"v":0.471}
  ],
  "limits": [{"v": 1.0}, {"v": 0.03}]
},
"concat": [
  {
    "width": 258, "height": 98,
    "data": {"name": "posA"},
    "mark": {"type": "line", "interpolate": "monotone", "strokeWidth": 1.5},
    "encoding": {
      "x": {"field": "t", "type": "quantitative", "scale": {"domain": [0, 20], "nice": false}, "axis": {"values": [0, 5, 10, 15, 20], "labels": false, "title": null, "grid": true}},
      "y": {"field": "v", "type": "quantitative", "scale": {"domain": [-0.091, 0.09], "nice": false, "zero": false}, "axis": {"values": [-0.05, 0, 0.05], "format": ".2f", "title": "position error [m]", "grid": true}},
      "color": {"field": "s", "type": "nominal", "scale": {"domain": ["e_px", "e_py", "e_pz"], "range": ["#1f77b4", "#ff7f0e", "#2ca02c"]}, "legend": {"title": null, "orient": "none", "legendX": 23, "legendY": 92, "direction": "horizontal", "columns": 3, "symbolSize": 576, "symbolStrokeWidth": 2, "labelFontSize": 11, "labelOffset": 8, "columnPadding": 17, "padding": 5}}
    }
  },
  {
    "width": 258, "height": 98,
    "data": {"name": "posB"},
    "mark": {"type": "line", "interpolate": "monotone", "strokeWidth": 1.5},
    "encoding": {
      "x": {"field": "t", "type": "quantitative", "scale": {"domain": [0, 20], "nice": false}, "axis": {"values": [0, 5, 10, 15, 20], "labels": false, "title": null, "grid": true}},
      "y": {"field": "v", "type": "quantitative", "scale": {"domain": [-0.091, 0.09], "nice": false, "zero": false}, "axis": {"values": [-0.05, 0, 0.05], "format": ".2f", "title": "position error [m]", "grid": true}},
      "color": {"field": "s", "type": "nominal", "scale": {"domain": ["e_px", "e_py", "e_pz"], "range": ["#1f77b4", "#ff7f0e", "#2ca02c"]}, "legend": {"title": null, "orient": "none", "legendX": 24, "legendY": 92, "direction": "horizontal", "columns": 3, "symbolSize": 576, "symbolStrokeWidth": 2, "labelFontSize": 11, "labelOffset": 8, "columnPadding": 17, "padding": 5}}
    }
  },
  {
    "width": 258, "height": 100,
    "data": {"name": "attA"},
    "mark": {"type": "line", "interpolate": "monotone", "strokeWidth": 1.5},
    "encoding": {
      "x": {"field": "t", "type": "quantitative", "scale": {"domain": [0, 20], "nice": false}, "axis": {"values": [0, 5, 10, 15, 20], "labels": false, "title": null, "grid": true}},
      "y": {"field": "v", "type": "quantitative", "scale": {"domain": [-32.5, 32.5], "nice": false, "zero": false}, "axis": {"values": [-20, 0, 20], "title": "attitude error [deg]", "grid": true}},
      "color": {"field": "s", "type": "nominal", "scale": {"domain": ["e_φ", "e_θ", "e_ψ"], "range": ["#1f77b4", "#ff7f0e", "#2ca02c"]}, "legend": {"title": null, "orient": "none", "legendX": 29, "legendY": 94, "direction": "horizontal", "columns": 3, "symbolSize": 576, "symbolStrokeWidth": 2, "labelFontSize": 11, "labelOffset": 8, "columnPadding": 22, "padding": 5}}
    }
  },
  {
    "width": 258, "height": 100,
    "data": {"name": "attB"},
    "mark": {"type": "line", "interpolate": "monotone", "strokeWidth": 1.5},
    "encoding": {
      "x": {"field": "t", "type": "quantitative", "scale": {"domain": [0, 20], "nice": false}, "axis": {"values": [0, 5, 10, 15, 20], "labels": false, "title": null, "grid": true}},
      "y": {"field": "v", "type": "quantitative", "scale": {"domain": [-32.5, 32.5], "nice": false, "zero": false}, "axis": {"values": [-20, 0, 20], "title": "attitude error [deg]", "grid": true}},
      "color": {"field": "s", "type": "nominal", "scale": {"domain": ["e_φ", "e_θ", "e_ψ"], "range": ["#1f77b4", "#ff7f0e", "#2ca02c"]}, "legend": {"title": null, "orient": "none", "legendX": 29, "legendY": 94, "direction": "horizontal", "columns": 3, "symbolSize": 576, "symbolStrokeWidth": 2, "labelFontSize": 11, "labelOffset": 8, "columnPadding": 20, "padding": 5}}
    }
  },
  {
    "width": 258, "height": 98,
    "title": {"text": "(a)  NMPC", "orient": "bottom", "anchor": "middle", "dx": -24, "offset": 20},
    "layer": [
      {
        "data": {"name": "inA"},
        "mark": {"type": "line", "strokeWidth": 1.8},
        "encoding": {
          "x": {"field": "t", "type": "quantitative", "scale": {"domain": [0, 20], "nice": false}, "axis": {"values": [0, 5, 10, 15, 20], "title": "time [s]", "grid": true}},
          "y": {"field": "v", "type": "quantitative", "scale": {"domain": [0, 1.05], "nice": false}, "axis": {"values": [0, 0.5, 1], "format": ".1f", "title": "normalized inputs", "grid": true}},
          "color": {"field": "s", "type": "nominal", "scale": {"domain": ["u₁", "u₂", "u₃", "u₄", "u₅", "u₆"], "range": ["#1f77b4", "#ff7f0e", "#2ca02c", "#d62728", "#9467bd", "#8c564b"]}, "legend": {"title": null, "orient": "none", "legendX": 8, "legendY": 73, "direction": "horizontal", "columns": 6, "symbolSize": 225, "symbolStrokeWidth": 1.8, "labelFontSize": 7, "labelOffset": 5, "columnPadding": 10, "padding": 2}}
        }
      },
      {
        "data": {"name": "limits"},
        "mark": {"type": "rule", "color": "#f47a7a", "strokeDash": [6, 4], "strokeWidth": 1.5},
        "encoding": {"y": {"field": "v", "type": "quantitative"}}
      }
    ]
  },
  {
    "width": 258, "height": 98,
    "title": {"text": "(b)  NMPC+TDC-QP", "orient": "bottom", "anchor": "middle", "dx": -22, "offset": 20},
    "layer": [
      {
        "data": {"name": "inB"},
        "mark": {"type": "line", "strokeWidth": 1.8},
        "encoding": {
          "x": {"field": "t", "type": "quantitative", "scale": {"domain": [0, 20], "nice": false}, "axis": {"values": [0, 5, 10, 15, 20], "title": "time [s]", "grid": true}},
          "y": {"field": "v", "type": "quantitative", "scale": {"domain": [0, 1.05], "nice": false}, "axis": {"values": [0, 0.5, 1], "format": ".1f", "title": "normalized inputs", "grid": true}},
          "color": {"field": "s", "type": "nominal", "scale": {"domain": ["u₁", "u₂", "u₃", "u₄", "u₅", "u₆"], "range": ["#1f77b4", "#ff7f0e", "#2ca02c", "#d62728", "#9467bd", "#8c564b"]}, "legend": {"title": null, "orient": "none", "legendX": 8, "legendY": 73, "direction": "horizontal", "columns": 6, "symbolSize": 225, "symbolStrokeWidth": 1.8, "labelFontSize": 7, "labelOffset": 5, "columnPadding": 10, "padding": 2}}
        }
      },
      {
        "data": {"name": "limits"},
        "mark": {"type": "rule", "color": "#f47a7a", "strokeDash": [6, 4], "strokeWidth": 1.5},
        "encoding": {"y": {"field": "v", "type": "quantitative"}}
      }
    ]
  }
],
"columns": 2,
"spacing": {"row": 32, "column": 70},
"bounds": "flush",
"resolve": {"scale": {"x": "independent", "y": "independent", "color": "independent"}, "legend": {"color": "independent"}}
}
